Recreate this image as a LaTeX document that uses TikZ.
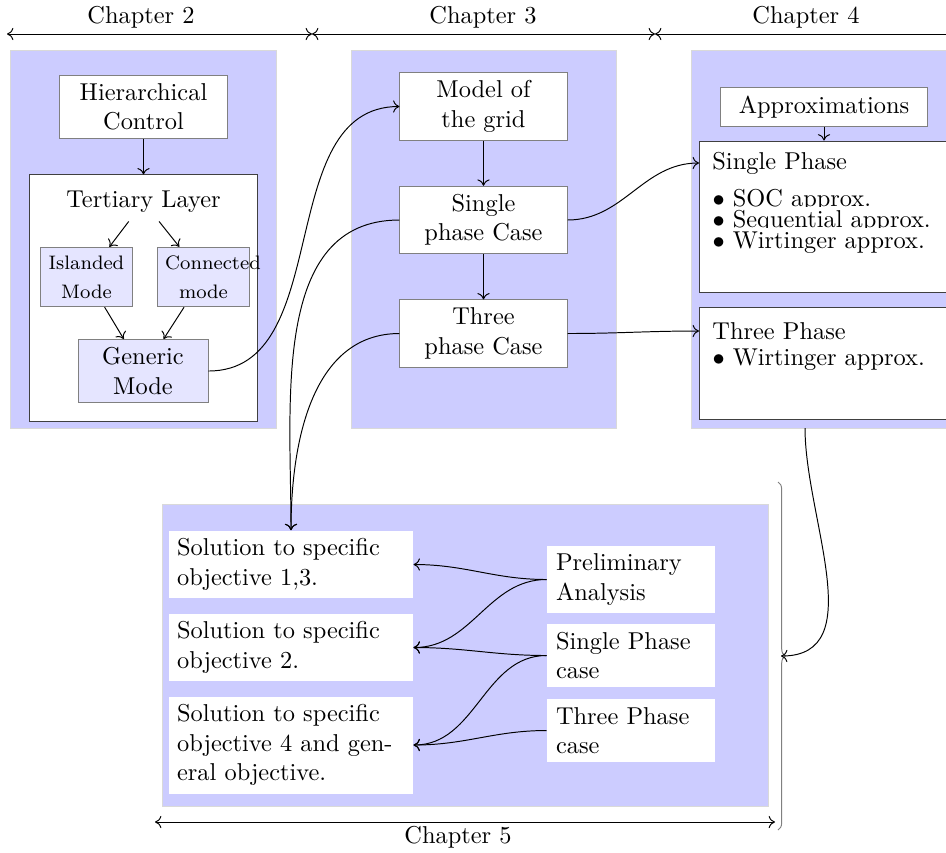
\documentclass[tikz,border=0pt]{standalone}
\usepackage{amsmath,amssymb}
\usetikzlibrary{positioning,decorations.pathreplacing,arrows.meta}

\begin{document}
\begin{tikzpicture}[x=0.41pt,y=0.41pt,
  >={To[length=2.6pt,width=5pt]},
  chapbg/.style={draw=gray!30,fill=blue!20},
  whitebox/.style={draw=gray,fill=white,align=center,minimum width=68.5pt},
  modebox/.style={draw=gray,fill=blue!10,align=center,font=\footnotesize,
    text width=31.4pt,minimum height=23.8pt},
  framebox/.style={draw=black!75,fill=white,inner sep=0pt},
  solbox/.style={fill=white,align=left,text width=93.4pt},
  casebox/.style={fill=white,align=left,text width=61.5pt,inner xsep=3.7pt},
  itembox/.style={fill=white,inner xsep=0pt,inner ysep=1.3pt,anchor=base west},
  ]
  \useasboundingbox (0,0) rectangle (946,-852);

  \draw[chapbg] (10,-50) rectangle (276,-428);
  \draw[chapbg] (351,-50) rectangle (616,-428);
  \draw[chapbg] (691,-50) rectangle (980,-428);
  \draw[chapbg] (162,-504) rectangle (768,-806);

  \coordinate (c2a) at (7,-34);
  \coordinate (c2b) at (312,-34);
  \coordinate (c3b) at (655,-34);
  \coordinate (c4b) at (960,-34);
  \draw[<->] (c2a) -- (c2b);
  \draw[<->] (c2b) -- (c3b);
  \draw[<->] (c3b) -- (c4b);
  \node (lab2) at (141,-17) {Chapter 2};
  \node (lab3) at (483,-17) {Chapter 3};
  \node (lab4) at (806,-17) {Chapter 4};

  % chapter 2
  \node[whitebox] (hc) at (143.5,-107) {Hierarchical\\Control};
  \node[framebox,minimum width=93.1pt,minimum height=100.9pt] (tier) at (143.5,-298) {};
  \node (tert) at (143.5,-202) {Tertiary Layer};
  \node[modebox] (isl) at (86.5,-277) {Islanded\\[2.5pt]Mode};
  \node[modebox] (con) at (203.5,-277) {Connected\\[2.5pt]mode};
  \node[draw=gray,fill=blue!10,align=center,minimum width=53.3pt] (gen) at (143,-371) {Generic\\Mode};

  % chapter 3
  \node[whitebox,minimum height=27.5pt] (grid) at (483.5,-106.5) {Model of\\the grid};
  \node[whitebox,minimum height=27.5pt] (spc) at (483.5,-220) {Single\\phase Case};
  \node[whitebox,minimum height=27.5pt] (tpc) at (483.5,-333.5) {Three\\phase Case};

  % chapter 4
  \node[whitebox,minimum width=84.5pt] (approx) at (824,-107) {Approximations};
  \node[framebox,minimum width=115.2pt,minimum height=61.9pt] (spf) at (839.5,-216.5) {};
  \node[framebox,minimum width=115.2pt,minimum height=46.3pt] (tpf) at (839.5,-363.5) {};
  \node[anchor=west,inner xsep=5.3pt] (sptitle) at (699,-163) {Single Phase};
  \node[itembox] (soc) at (712,-206) {$\bullet$ SOC approx.};
  \node[itembox] (seq) at (712,-227) {$\bullet$ Sequential approx.};
  \node[itembox] (wsp) at (712,-248) {$\bullet$ Wirtinger approx.};
  \node[anchor=west,inner xsep=5.3pt] (tptitle) at (699,-331) {Three Phase};
  \node[itembox] (wtp) at (712,-365) {$\bullet$ Wirtinger approx.};
  \coordinate (ch4out) at (805,-428);

  % chapter 5
  \node[solbox] (sol1) at (291,-564.5) {Solution to specific objective 1,3.};
  \node[solbox] (sol2) at (291,-647.5) {Solution to specific objective 2.};
  \node[solbox] (sol3) at (291,-745) {Solution to specific objective 4 and general objective.};
  \node[casebox] (pre) at (631,-579.5) {Preliminary Analysis};
  \node[casebox] (spcase) at (631,-655.5) {Single Phase case};
  \node[casebox] (tpcase) at (631,-730.5) {Three Phase case};

  \draw[gray,decorate,decoration={brace,amplitude=3pt}] (778,-482) -- (778,-830);
  \coordinate (bracetip) at (781,-656);
  \coordinate (c5a) at (155,-822);
  \coordinate (c5b) at (775,-822);
  \draw[<->] (c5a) -- (c5b);
  \node (lab5) at (458,-837) {Chapter 5};

  \path[->]
    (hc) edge (tier)
    (tert) edge (isl)
    (tert) edge (con)
    (isl) edge (gen)
    (con) edge (gen)
    (grid) edge (spc)
    (spc) edge (tpc)
    (approx.south) edge (approx.south |- spf.north)
    (gen.east) edge[out=0,in=180] (grid.west)
    (spc.west) edge[out=180,in=90] (sol1.north)
    (tpc.west) edge[out=180,in=90] (sol1.north)
    (spc.east) edge[out=0,in=180] (sptitle.west)
    (tpc.east) edge[out=0,in=180] (tptitle.west)
    (ch4out) edge[out=-90,in=0] (bracetip)
    (pre.west)
      edge[out=180,in=0] (sol1.east)
      edge[out=180,in=0] (sol2.east)
    (spcase.west)
      edge[out=180,in=0] (sol2.east)
      edge[out=180,in=0] (sol3.east)
    (tpcase.west) edge[out=180,in=0] (sol3.east);

\end{tikzpicture}
\end{document}
